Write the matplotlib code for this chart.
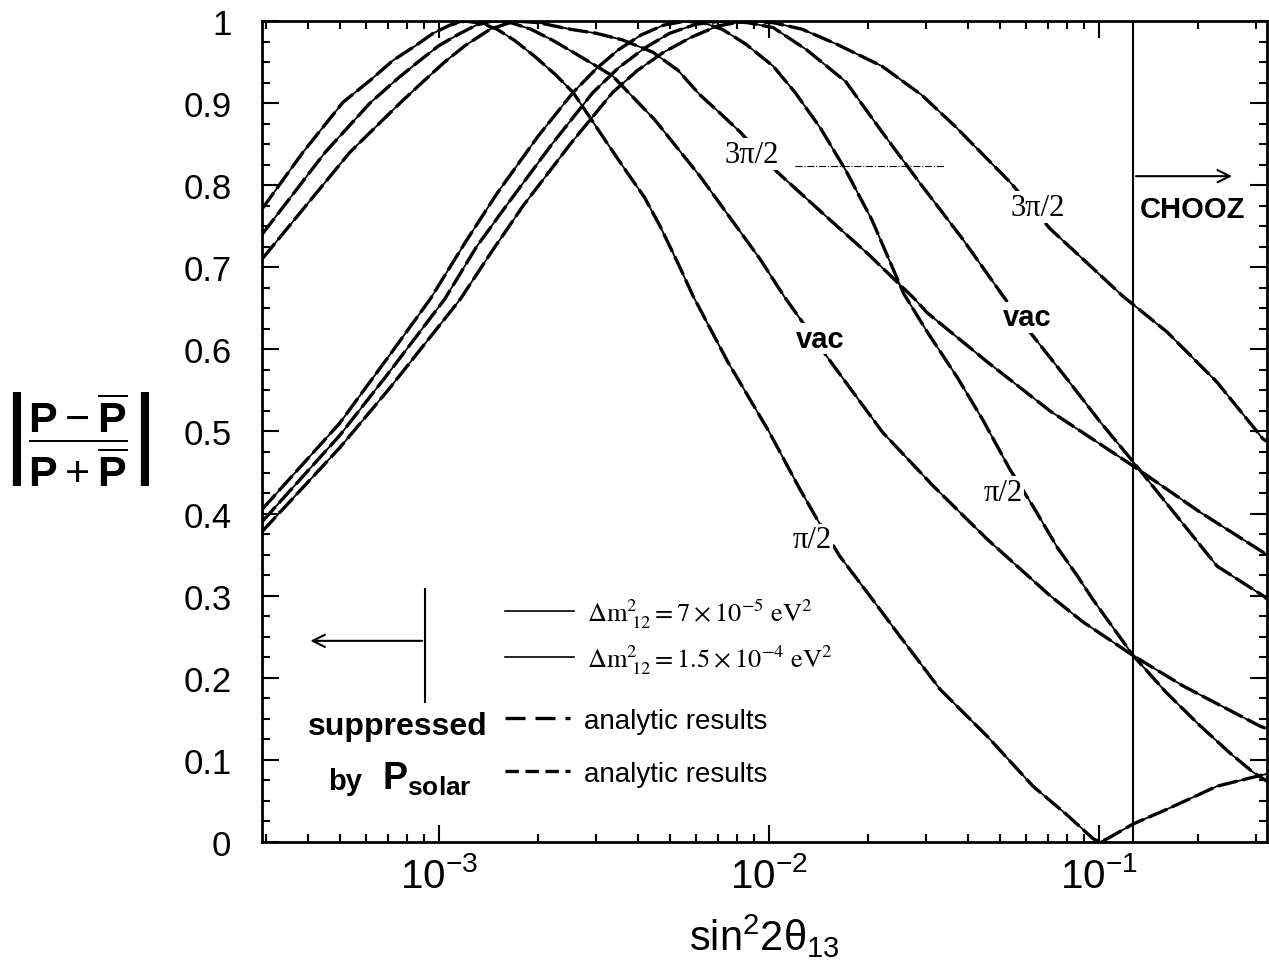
import matplotlib
matplotlib.use("Agg")
import matplotlib.pyplot as plt
from matplotlib.lines import Line2D
from matplotlib.ticker import MultipleLocator, FuncFormatter, LogLocator, NullFormatter

plt.rcParams['font.family'] = ['Liberation Sans', 'DejaVu Sans']
plt.rcParams['mathtext.fontset'] = 'custom'
plt.rcParams['mathtext.rm'] = 'Liberation Sans'
plt.rcParams['mathtext.it'] = 'Liberation Sans:italic'
plt.rcParams['mathtext.bf'] = 'Liberation Sans:bold'

# |P-Pbar|/|P+Pbar| vs sin^2 2theta13
# family "a": peaks near 1.5e-3 ; family "b": peaks near 7e-3
x_pi2_a = [2.91e-4, 3.87e-4, 5.12e-4, 6.2e-4, 7.26e-4, 8.5e-4, 9.6e-4, 1.08e-3, 1.2e-3, 1.35e-3,
           1.5e-3, 1.7e-3, 1.95e-3, 2.25e-3, 2.55e-3, 2.93e-3, 3.3e-3, 3.71e-3, 4.2e-3, 4.68e-3,
           5.3e-3, 5.89e-3, 7.5e-3, 1.0e-2, 1.24e-2, 1.40e-2, 1.64e-2, 2.02e-2, 2.49e-2, 3.30e-2,
           4.58e-2, 6.31e-2, 8.0e-2, 9.6e-2, 0.1007, 0.106, 0.127, 0.161, 0.228, 0.301, 0.323]
y_pi2_a = [0.771, 0.840, 0.901, 0.928, 0.952, 0.970, 0.985, 0.995, 1.0, 0.997,
           0.990, 0.976, 0.957, 0.935, 0.913, 0.877, 0.846, 0.816, 0.785, 0.750,
           0.705, 0.665, 0.585, 0.50, 0.43, 0.393, 0.348, 0.300, 0.251, 0.186,
           0.129, 0.068, 0.033, 0.004, 0.0, 0.004, 0.022, 0.040, 0.068, 0.080, 0.083]

x_vac_a = [2.91e-4, 4.52e-4, 6.18e-4, 7.5e-4, 8.76e-4, 1.0e-3, 1.16e-3, 1.3e-3, 1.45e-3, 1.65e-3,
           1.9e-3, 2.2e-3, 2.6e-3, 3.0e-3, 3.36e-3, 4.5e-3, 6.18e-3, 9.4e-3, 1.11e-2, 1.50e-2,
           2.21e-2, 3.14e-2, 4.58e-2, 7.11e-2, 8.95e-2, 0.127, 0.18, 0.308, 0.323]
y_vac_a = [0.74, 0.84, 0.90, 0.93, 0.952, 0.97, 0.985, 0.995, 1.0, 0.998,
           0.99, 0.977, 0.96, 0.945, 0.933, 0.88, 0.811, 0.71, 0.665, 0.591,
           0.499, 0.434, 0.369, 0.30, 0.268, 0.227, 0.19, 0.141, 0.138]

x_3pi2_a = [2.91e-4, 5.37e-4, 7.62e-4, 9.0e-4, 1.04e-3, 1.2e-3, 1.43e-3, 1.7e-3, 2.0e-3, 2.5e-3,
            3.0e-3, 3.6e-3, 4.45e-3, 5.3e-3, 6.18e-3, 7.1e-3, 8.17e-3, 1.06e-2, 1.5e-2, 2.0e-2,
            2.77e-2, 3.01e-2, 4.58e-2, 7.11e-2, 0.127, 0.202, 0.314, 0.323]
y_3pi2_a = [0.71, 0.84, 0.90, 0.927, 0.95, 0.97, 0.99, 1.0, 0.998, 0.99,
            0.985, 0.977, 0.962, 0.94, 0.91, 0.888, 0.865, 0.816, 0.761, 0.716,
            0.661, 0.645, 0.585, 0.525, 0.458, 0.402, 0.353, 0.35]

x_pi2_b = [2.91e-4, 5.0e-4, 7.0e-4, 9.4e-4, 1.2e-3, 1.5e-3, 2.0e-3, 2.55e-3, 3.0e-3, 3.5e-3,
           4.1e-3, 4.8e-3, 5.6e-3, 6.4e-3, 7.21e-3, 8.5e-3, 1.03e-2, 1.2e-2, 1.43e-2, 1.71e-2,
           2.05e-2, 2.56e-2, 3.01e-2, 3.72e-2, 4.45e-2, 5.37e-2, 6.31e-2, 7.5e-2, 8.57e-2, 9.6e-2,
           0.127, 0.16, 0.202, 0.25, 0.293, 0.323]
y_pi2_b = [0.405, 0.51, 0.59, 0.661, 0.73, 0.79, 0.86, 0.913, 0.942, 0.965,
           0.983, 0.995, 1.0, 0.997, 0.99, 0.972, 0.945, 0.913, 0.87, 0.818,
           0.758, 0.668, 0.622, 0.566, 0.514, 0.454, 0.409, 0.358, 0.325, 0.295,
           0.227, 0.182, 0.142, 0.108, 0.085, 0.074]

x_vac_b = [2.91e-4, 5.0e-4, 7.0e-4, 1.04e-3, 1.3e-3, 1.6e-3, 2.2e-3, 2.93e-3, 3.5e-3, 4.2e-3,
           5.0e-3, 6.0e-3, 7.2e-3, 8.6e-3, 1.03e-2, 1.3e-2, 1.71e-2, 2.2e-2, 2.85e-2, 3.87e-2,
           5.12e-2, 6.18e-2, 8.0e-2, 0.1007, 0.127, 0.228, 0.314, 0.323]
y_vac_b = [0.39, 0.495, 0.57, 0.661, 0.725, 0.775, 0.85, 0.913, 0.943, 0.967,
           0.985, 0.996, 1.0, 0.998, 0.992, 0.965, 0.926, 0.865, 0.804, 0.734,
           0.665, 0.621, 0.564, 0.512, 0.463, 0.336, 0.30, 0.296]

x_3pi2_b = [2.91e-4, 5.0e-4, 7.0e-4, 1.16e-3, 1.45e-3, 1.8e-3, 2.5e-3, 3.36e-3, 4.0e-3, 4.8e-3,
            5.8e-3, 7.0e-3, 8.5e-3, 1.03e-2, 1.26e-2, 1.6e-2, 2.2e-2, 2.9e-2, 3.66e-2, 5.37e-2,
            7.11e-2, 9.0e-2, 0.118, 0.161, 0.228, 0.314, 0.323]
y_3pi2_b = [0.378, 0.48, 0.55, 0.661, 0.72, 0.775, 0.85, 0.913, 0.94, 0.962,
            0.98, 0.994, 1.0, 0.998, 0.99, 0.972, 0.945, 0.91, 0.872, 0.804,
            0.747, 0.709, 0.665, 0.621, 0.56, 0.491, 0.488]

chooz_limit = 0.127
legend_labels_dm = [r'$\Delta\mathrm{m}^{2}_{\ 12} = 7\times10^{-5}\ \mathrm{eV}^{2}$',
                    r'$\Delta\mathrm{m}^{2}_{\ 12} = 1.5\times10^{-4}\ \mathrm{eV}^{2}$']
legend_labels_an = ['analytic results', 'analytic results']

curves = [(x_pi2_a, y_pi2_a), (x_vac_a, y_vac_a), (x_3pi2_a, y_3pi2_a),
          (x_pi2_b, y_pi2_b), (x_vac_b, y_vac_b), (x_3pi2_b, y_3pi2_b)]

fig = plt.figure(figsize=(12.69, 9.78), dpi=100)
ax = fig.add_axes([262 / 1269, 1 - 843 / 978, 1005 / 1269, 821 / 978])

for xs, ys in curves:
    # numerical result (thin solid) with the analytic one dashed on top
    ax.plot(xs, ys, color='black', lw=1.3, zorder=2)
    ax.plot(xs, ys, color='black', lw=2.4, dashes=(6, 1.6), zorder=3)

ax.axvline(chooz_limit, color='black', lw=1.5, zorder=4)

ax.set_xscale('log')
ax.set_xlim(2.91e-4, 0.323)
ax.set_ylim(0, 1)

ax.yaxis.set_major_locator(MultipleLocator(0.1))
ax.yaxis.set_minor_locator(MultipleLocator(0.025))
ax.yaxis.set_major_formatter(FuncFormatter(lambda v, p: f'{v:g}'))
ax.xaxis.set_major_locator(LogLocator(base=10, numticks=10))
ax.xaxis.set_minor_locator(LogLocator(base=10, subs=range(2, 10), numticks=40))
ax.xaxis.set_minor_formatter(NullFormatter())

ax.tick_params(which='both', direction='in', top=True, right=True, width=1.5)
ax.tick_params(which='major', length=12)
ax.tick_params(which='minor', length=6)
ax.tick_params(axis='y', labelsize=25, pad=22)
ax.tick_params(axis='x', labelsize=29, pad=10)
for s in ax.spines.values():
    s.set_linewidth(2)

ax.set_xlabel('sin$^{2}$2θ$_{13}$', fontsize=30, labelpad=12)
fig.text(0.06, 0.55, r'$\left|\dfrac{\mathbf{P}-\overline{\mathbf{P}}}{\mathbf{P}+\overline{\mathbf{P}}}\right|$',
         fontsize=31, ha='center', va='center')

# curve labels
white = dict(facecolor='white', edgecolor='none', pad=1)
serif = ['Liberation Serif', 'DejaVu Serif']
ax.text(8.87e-3, 0.838, '3π/2', family=serif, fontsize=22, ha='center', va='center', bbox=white, zorder=5)
ax.text(6.53e-2, 0.773, '3π/2', family=serif, fontsize=22, ha='center', va='center', bbox=white, zorder=5)
ax.plot([1.2e-2, 3.41e-2], [0.823, 0.823], color='black', lw=0.8, ls='-.', zorder=1)
ax.text(1.43e-2, 0.613, 'vac', fontsize=21, fontweight='bold', ha='center', va='center', bbox=white, zorder=5)
ax.text(6.05e-2, 0.639, 'vac', fontsize=21, fontweight='bold', ha='center', va='center', bbox=white, zorder=5)
ax.text(1.35e-2, 0.368, 'π/2', family=serif, fontsize=22, ha='center', va='center', bbox=white, zorder=5)
ax.text(5.12e-2, 0.426, 'π/2', family=serif, fontsize=22, ha='center', va='center', bbox=white, zorder=5)

ax.text(0.133, 0.771, 'CHOOZ', fontsize=21, fontweight='bold', ha='left', va='center', zorder=5)
ax.annotate('', xy=(0.258, 0.811), xytext=(chooz_limit, 0.811),
            arrowprops=dict(arrowstyle='->', color='black', lw=1.5, mutation_scale=22))

# solar suppression note
ax.plot([9.07e-4, 9.07e-4], [0.171, 0.308], color='black', lw=1.5)
ax.annotate('', xy=(4.0e-4, 0.245), xytext=(9.07e-4, 0.245),
            arrowprops=dict(arrowstyle='->', color='black', lw=1.5, mutation_scale=22))
ax.text(7.52e-4, 0.141, 'suppressed', fontsize=23, fontweight='bold', ha='center', va='center')
ax.text(4.6e-4, 0.065, 'by', fontsize=21, fontweight='bold', ha='left', va='baseline')
ax.text(6.7e-4, 0.065, r'$\mathbf{P}_{\mathbf{solar}}$', fontsize=27, ha='left', va='baseline')

# legend in two blocks to match the row spacing
h_dm = [Line2D([], [], color='black', lw=1.2), Line2D([], [], color='black', lw=1.2)]
leg1 = ax.legend(h_dm, legend_labels_dm, loc='upper left', bbox_to_anchor=(0.242, 0.299),
                 frameon=False, fontsize=19, handlelength=2.6, handletextpad=0.5,
                 labelspacing=0.47, borderpad=0, borderaxespad=0)
for t in leg1.get_texts():
    t.set_math_fontfamily('stix')
ax.add_artist(leg1)

h_an = [Line2D([], [], color='black', lw=2.4, dashes=(6, 3)),
        Line2D([], [], color='black', lw=2.4, dashes=(4, 2))]
ax.legend(h_an, legend_labels_an, loc='upper left', bbox_to_anchor=(0.242, 0.163),
          frameon=False, fontsize=20, handlelength=2.35, handletextpad=0.5,
          labelspacing=0.97, borderpad=0, borderaxespad=0)

fig.savefig('out.png', dpi=100)
